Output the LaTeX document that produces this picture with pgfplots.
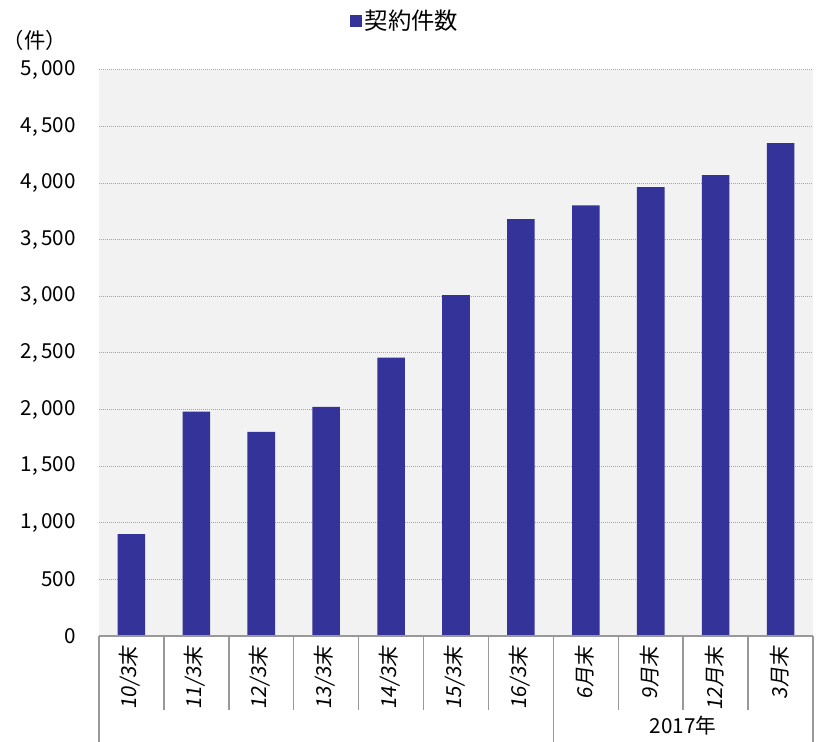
\documentclass[border=0pt]{standalone}
\usepackage{fontspec}
\setmainfont{Noto Sans CJK JP}
\newfontfamily\slantjp[FakeSlant=0.15]{Noto Sans CJK JP}
\usepackage{pgfplots}
\pgfplotsset{compat=1.18}
\definecolor{barblue}{HTML}{333399}
\definecolor{bgray}{HTML}{F2F2F2}
\definecolor{gridgray}{HTML}{A6A6A6}
\definecolor{axgray}{HTML}{999999}
\begin{document}
\begin{tikzpicture}
\useasboundingbox (-74.25pt,-79.5pt) rectangle (538.5pt,477pt);
\begin{axis}[
  at={(0,0)}, anchor=south west,
  scale only axis, width=535.5pt, height=424.5pt,
  xmin=-0.5, xmax=10.5, ymin=0, ymax=5000,
  clip=false,
  ybar, bar width=0.425,
  ytick={0,500,...,5000},
  xtick={0,...,10},
  xticklabels={10/3末,11/3末,12/3末,13/3末,14/3末,15/3末,16/3末,6月末,9月末,12月末,3月末},
  xticklabel style={rotate=90, anchor=east, font=\fontsize{15.5}{17}\slantjp, yshift=1pt},
  yticklabel style={font=\fontsize{15.5}{18}\selectfont, anchor=east, xshift=-14pt},
  /pgf/number format/.cd, 1000 sep={,\,}, assume math mode=true, /pgfplots/.cd,
  axis line style={draw=none}, tick style={draw=none},
  ymajorgrids,
  major grid style={gridgray, dash pattern=on 0.75pt off 0.75pt, line width=0.75pt},
  axis background/.style={fill=bgray},
  legend style={at={(0.3515,1.0866)}, anchor=west, draw=none, fill=none,
    font=\fontsize{17.5}{20}\selectfont, inner sep=0pt},
]
\addplot[fill=barblue, draw=none,
  legend image code/.code={\fill[barblue] (0pt,-4.5pt) rectangle (9pt,4.5pt);}]
  coordinates {(0,900) (1,1982) (2,1803) (3,2024) (4,2459) (5,3012) (6,3682) (7,3803) (8,3965) (9,4071) (10,4353)};
\addlegendentry{契約件数}
\draw[axgray, line width=1.2pt] (axis cs:-0.5,0) -- (axis cs:10.5,0);
\pgfplotsinvokeforeach{0.5,1.5,2.5,3.5,4.5,5.5,7.5,8.5,9.5}{
  \draw[axgray, line width=1.1pt] (axis cs:#1,0) -- ([yshift=-55.5pt]axis cs:#1,0);
}
\pgfplotsinvokeforeach{-0.5,6.5,10.5}{
  \draw[axgray, line width=1.1pt] (axis cs:#1,0) -- ([yshift=-79.5pt]axis cs:#1,0);
}
\node[font=\fontsize{15.5}{17}\selectfont] at ([yshift=-67.5pt]axis cs:8.5,0) {2017年};
\node[font=\fontsize{16}{18}\selectfont] at ([xshift=-48pt, yshift=22.5pt]rel axis cs:0,1) {（件）};
\end{axis}
\end{tikzpicture}
\end{document}
